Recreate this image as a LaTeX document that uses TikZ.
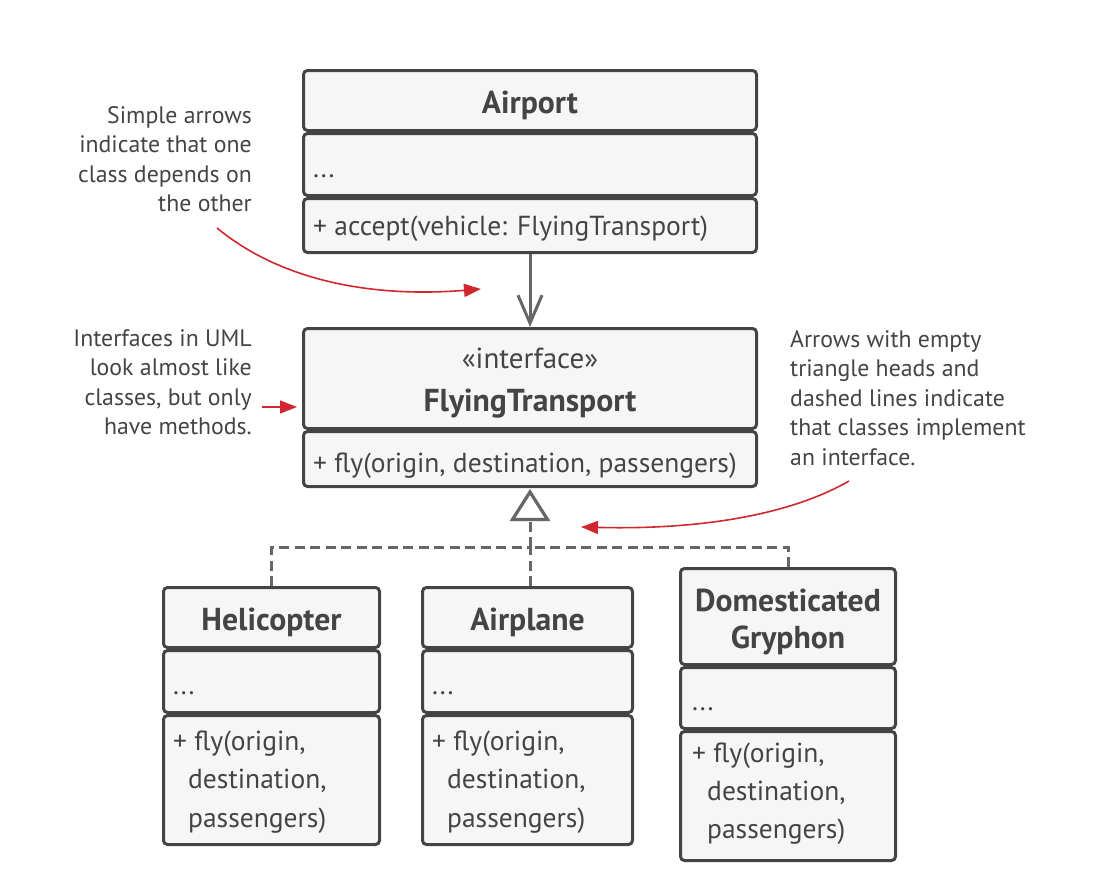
\documentclass[tikz,border=0pt]{standalone}
\usepackage{fontspec}
\setmainfont{PT Sans}
\usetikzlibrary{arrows.meta}
\definecolor{ink}{HTML}{444444}
\definecolor{boxfill}{HTML}{F6F6F6}
\definecolor{conn}{HTML}{666666}
\definecolor{notered}{HTML}{D0282E}
\begin{document}
\begin{tikzpicture}[x=1pt,y=-1pt,
  comp/.style 2 args={draw=ink, fill=boxfill, line width=3pt, rounded corners=4pt, inner sep=0pt, minimum width=#1pt, minimum height=#2pt},
  title/.style={font=\fontsize{31.7}{38}\selectfont\bfseries, text=ink, inner sep=0pt, anchor=base},
  body/.style={font=\fontsize{27.5}{38}\selectfont, text=ink, inner sep=0pt, anchor=base west},
  note/.style={font=\fontsize{23.8}{29.5}\selectfont, text=ink, inner sep=0pt},
  dep/.style={draw=conn, line width=3pt, -{Straight Barb[length=28pt,width=24pt]}},
  real/.style={draw=conn, line width=3pt, dash pattern=on 10pt off 5.5pt},
  trihead/.style={draw=conn, fill=white, line width=3.2pt, line join=miter},
  noteline/.style={draw=notered, line width=1.6pt, -{Triangle[length=17pt, width=13pt]}}
]
\useasboundingbox (0,0) rectangle (1101,878);

% Airport
\node[comp={453}{60}] (ap1) at (530,100.5) {};
\node[comp={453}{62}] (ap2) at (530,164.5) {};
\node[comp={453}{54}] (ap3) at (530,225.5) {};
\node[title] (apt) at (530,113) {Airport};
\node[body] (apa) at (313,177) {...};
\node[body] (apm) at (313,235) {+ accept(vehicle: FlyingTransport)};

% FlyingTransport
\node[comp={453}{100}] (ft1) at (530,378.5) {};
\node[comp={453}{55}] (ft2) at (530,459) {};
\node[body, anchor=base, font=\fontsize{29}{38}\selectfont] (fts) at (530,368) {«interface»};
\node[title] (ftt) at (530,411) {FlyingTransport};
\node[body] (ftm) at (313,472) {+ fly(origin, destination, passengers)};

% Helicopter
\node[comp={216}{60}] (he1) at (271.5,617.5) {};
\node[comp={216}{62}] (he2) at (271.5,681.5) {};
\node[comp={216}{129}] (he3) at (271.5,780) {};
\node[title] (het) at (271.5,630) {Helicopter};
\node[body] (hea) at (173,694) {...};
\node[body] (hem) at (173,750) {+ fly(origin,};
\node[body] (hem2) at (188,788) {destination,};
\node[body] (hem3) at (188,827) {passengers)};

% Airplane
\node[comp={210}{60}] (ai1) at (527.5,617.5) {};
\node[comp={210}{62}] (ai2) at (527.5,681.5) {};
\node[comp={210}{129}] (ai3) at (527.5,780) {};
\node[title] (ait) at (527.5,630) {Airplane};
\node[body] (aia) at (432,694) {...};
\node[body] (aim) at (432,750) {+ fly(origin,};
\node[body] (aim2) at (447,788) {destination,};
\node[body] (aim3) at (447,827) {passengers)};

% Domesticated Gryphon
\node[comp={215}{96}] (gr1) at (788,616.5) {};
\node[comp={215}{61}] (gr2) at (788,698) {};
\node[comp={215}{129}] (gr3) at (788,796) {};
\node[title] (grt) at (788,611) {Domesticated};
\node[title] (grt2) at (788,648) {Gryphon};
\node[body] (gra) at (692,710) {...};
\node[body] (grm) at (692,762) {+ fly(origin,};
\node[body] (grm2) at (707,800) {destination,};
\node[body] (grm3) at (707,838) {passengers)};

% connectors
\draw[dep] (ap3.south) -- (ft1.north);
\coordinate (jn) at (530,547);
\coordinate (tb) at (530,519.5);
\draw[real] (he1.north) |- (jn);
\draw[real] (gr1.north) |- (jn);
\draw[real] (ai1.north -| jn) -- (jn);
\draw[real] (jn) -- (tb);
\draw[trihead] (530,492) -- (547.5,519.5) -- (512.5,519.5) -- cycle;

% notes
\node[note, anchor=north east, align=right] (n1) at (252,106) {Simple arrows\\indicate that one\\class depends on\\the other};
\node[note, anchor=north east, align=right] (n2) at (252,329) {Interfaces in UML\\look almost like\\classes, but only\\have methods.};
\node[note, anchor=north west, align=left] (n3) at (790,330) {Arrows with empty\\triangle heads and\\dashed lines indicate\\that classes implement\\an interface.};

\coordinate (s1) at (217,228);
\coordinate (e1) at (481,289);
\draw[noteline] (s1) .. controls (280,280) and (370,298) .. (e1);
\coordinate (s2) at (262,407);
\coordinate (e2) at (297,407);
\draw[noteline] (s2) -- (e2);
\coordinate (s3) at (849,481);
\coordinate (e3) at (581,527);
\draw[noteline] (s3) .. controls (790,515) and (700,530) .. (e3);
\end{tikzpicture}
\end{document}
